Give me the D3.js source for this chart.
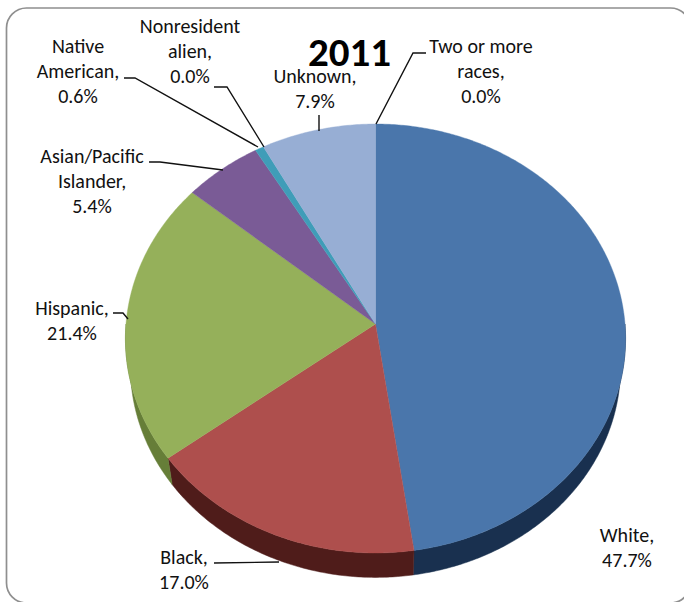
<!DOCTYPE html>
<html><head><meta charset="utf-8">
<script src="https://cdnjs.cloudflare.com/ajax/libs/d3/7.8.5/d3.min.js"></script>
<style>html,body{margin:0;padding:0;background:#fff;overflow:hidden}svg{display:block}text{font-family:Carlito,Calibri,"Open Sans",sans-serif}</style>
</head><body><div id="c"></div>
<script>
const categories=["White","Black","Hispanic","Asian/Pacific Islander","Native American","Nonresident alien","Unknown","Two or more races"];
const values=[47.7,17.0,21.4,5.4,0.6,0.0,7.9,0.0];
const colors=["#4a76ab","#ae4f4d","#95b05a","#7a5b96","#3f9db8","#e08a3c","#97aed4","#b0c4e4"];
const sideColors=["#19304f","#4f1c1a","#667e38","#4a3560","#1f5b6c","#80501f","#5a6c8c","#6a7c99"];
const W=684,H=602;
const cx=375.5,cy=324,a=249.5,b=213.5,k=0.0676,shrink=0.98,drop=29;
const svg=d3.select("#c").append("svg").attr("width",W).attr("height",H);
svg.append("rect").attr("x",6.5).attr("y",8).attr("width",684).attr("height",595).attr("rx",20).attr("fill","#fff").attr("stroke","#8f8f8f").attr("stroke-width",1.7);
const pie=d3.pie().value(d=>d).sort(null)(values);
function proj(t){const u=Math.sin(t),v=Math.cos(t),d=1+k*v;return [cx+a*u/d,cy-b*v/d];}
function rim(t0,t1){const n=Math.max(2,Math.ceil((t1-t0)/0.01)),o=[];for(let i=0;i<=n;i++)o.push(proj(t0+(t1-t0)*i/n));return o;}
const line=d3.line();
const side=svg.append("g");
pie.forEach((p,i)=>{
  if(p.endAngle-p.startAngle<1e-6)return;
  const t0=Math.max(p.startAngle,Math.PI/2),t1=Math.min(p.endAngle,Math.PI*3/2);
  if(t1<=t0)return;
  const top=rim(t0,t1),bot=top.map(q=>[cx+(q[0]-cx)*shrink,cy+drop+(q[1]-cy)*shrink]).reverse();
  side.append("path").attr("d",line(top.concat(bot))+"Z").attr("fill",sideColors[i]).attr("stroke",sideColors[i]).attr("stroke-width",.5);
});
const tops=svg.append("g");
pie.forEach((p,i)=>{
  if(p.endAngle-p.startAngle<1e-6)return;
  tops.append("path").attr("d",line([[cx,cy]].concat(rim(p.startAngle,p.endAngle)))+"Z").attr("fill",colors[i]).attr("stroke",colors[i]).attr("stroke-width",.4);
});
const leaders=[[[426,53],[413,53],[376,124]],[[319,115],[319,131]],[[149,162],[160,162],[223,170]],[[124,78],[135,78],[258,147]],[[214,87],[227,87],[264,147]],[[113,313],[123,313],[128,319]],[[214,563],[279,562]]];
svg.append("g").selectAll("path").data(leaders).join("path").attr("d",d=>d3.line()(d)).attr("fill","none").attr("stroke","#111").attr("stroke-width",1.4);
const labels=[[["Nonresident","alien,","0.0%"],190,33],[["Native","American,","0.6%"],78,53],[["Two or more","races,","0.0%"],481,53],[["Unknown,","7.9%"],315,83],[["Asian/Pacific","Islander,","5.4%"],92,163],[["Hispanic,","21.4%"],72,315],[["Black,","17.0%"],184,564],[["White,","47.7%"],627,542]];
const tg=svg.append("g").attr("font-size",20).attr("fill","#111").attr("text-anchor","middle");
labels.forEach(l=>{l[0].forEach((s,j)=>tg.append("text").attr("x",l[1]).attr("y",l[2]+j*25).text(s));});
svg.append("text").attr("x",349.5).attr("y",66).attr("text-anchor","middle").attr("font-size",41).attr("font-weight",700).attr("fill","#000").text("2011");
</script></body></html>
